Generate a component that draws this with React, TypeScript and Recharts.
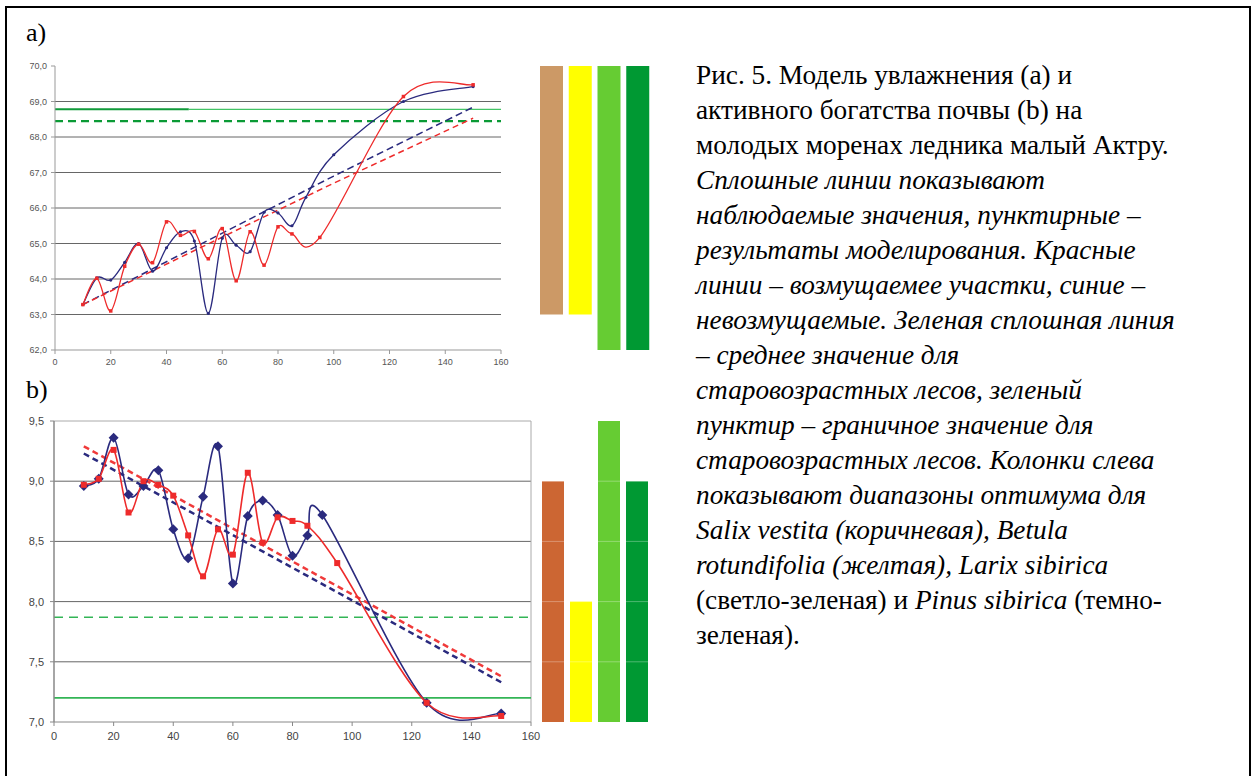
import React from "react";
import {
  Bar,
  BarChart,
  CartesianGrid,
  Cell,
  Line,
  LineChart,
  ReferenceLine,
  XAxis,
  YAxis,
} from "recharts";

// ---------- a) увлажнение ----------
const ageRedA = [10, 15, 20, 25, 30, 35, 40, 45, 50, 55, 60, 65, 70, 75, 80, 85, 95, 125, 150];
const redObsA = [63.28, 64.02, 63.1, 64.36, 64.98, 64.46, 65.61, 65.23, 65.34, 64.57, 65.42, 63.95, 65.33, 64.39, 65.47, 65.27, 65.17, 69.14, 69.47];
const ageBlueA = [10, 15, 20, 25, 30, 35, 40, 45, 50, 55, 60, 65, 70, 75, 80, 85, 90, 100, 125, 150];
const blueObsA = [63.28, 64.03, 63.97, 64.47, 65.0, 64.22, 64.88, 65.33, 65.07, 63.03, 65.15, 64.95, 64.77, 65.88, 65.86, 65.5, 66.3, 67.5, 69.0, 69.42];
const ageModelA = [10, 100, 150];
const blueModelA = [63.28, 66.9, 68.84];
const redModelA = [63.28, 66.7, 68.53];
const meanA = 68.78;
const limitA = 68.45;
const ticksXA = [0, 20, 40, 60, 80, 100, 120, 140, 160];
const ticksYA = [62, 63, 64, 65, 66, 67, 68, 69, 70];
const gridA = [63, 64, 65, 66, 67, 68, 69];

// ---------- b) активное богатство ----------
const ageBlueB = [10, 15, 20, 25, 30, 35, 40, 45, 50, 55, 60, 65, 70, 75, 80, 85, 90, 125, 150];
const blueObsB = [8.96, 9.02, 9.36, 8.89, 8.96, 9.09, 8.6, 8.36, 8.87, 9.29, 8.15, 8.71, 8.84, 8.72, 8.38, 8.55, 8.72, 7.16, 7.07];
const ageRedB = [10, 15, 20, 25, 30, 35, 40, 45, 50, 55, 60, 65, 70, 75, 80, 85, 95, 125, 150];
const redObsB = [8.97, 9.02, 9.26, 8.74, 9.0, 8.97, 8.88, 8.55, 8.21, 8.6, 8.39, 9.07, 8.49, 8.7, 8.67, 8.63, 8.32, 7.16, 7.05];
const ageModelB = [10, 100, 150];
const redModelB = [9.29, 8.06, 7.38];
const blueModelB = [9.23, 8.01, 7.33];
const meanB = 7.2;
const limitB = 7.87;
const ticksXB = [0, 20, 40, 60, 80, 100, 120, 140, 160];
const ticksYB = [7, 7.5, 8, 8.5, 9, 9.5];
const gridB = [7.5, 8, 8.5, 9];

// ---------- колонки оптимума ----------
const species = ["Salix vestita", "Betula rotundifolia", "Larix sibirica", "Pinus sibirica"];
const optLowA = [63, 63, 62, 62];
const optHighA = [70, 70, 70, 70];
const optLowB = [7, 7, 7, 7];
const optHighB = [9, 8, 9.5, 9];
const colorsA = ["#CC9966", "#FFFF00", "#66CC33", "#009933"];
const colorsB = ["#CC6633", "#FFFF00", "#66CC33", "#009933"];

const pts = (xs: number[], ys: number[]) => xs.map((x, i) => ({ x, y: ys[i] }));
const flat = (x0: number, x1: number, y: number) => [{ x: x0, y }, { x: x1, y }];
const comma = (d: number) => (v: number) => v.toFixed(d).replace(".", ",");

// сглаживание как в Excel (Catmull-Rom через кривые Безье)
const excelSmooth = (context: any) => {
  let p: number[][] = [];
  return {
    areaStart() {},
    areaEnd() {},
    lineStart() {
      p = [];
    },
    point(x: number, y: number) {
      p.push([+x, +y]);
    },
    lineEnd() {
      if (!p.length) return;
      context.moveTo(p[0][0], p[0][1]);
      for (let i = 0; i < p.length - 1; i++) {
        const p0 = p[i - 1] || p[i];
        const p1 = p[i];
        const p2 = p[i + 1];
        const p3 = p[i + 2] || p2;
        context.bezierCurveTo(
          p1[0] + (p2[0] - p0[0]) / 6,
          p1[1] + (p2[1] - p0[1]) / 6,
          p2[0] - (p3[0] - p1[0]) / 6,
          p2[1] - (p3[1] - p1[1]) / 6,
          p2[0],
          p2[1]
        );
      }
    },
  };
};

const square = (s: number, color: string) => (p: any) => (
  <rect key={`sq-${p.index}`} x={p.cx - s / 2} y={p.cy - s / 2} width={s} height={s} fill={color} />
);
const circle = (r: number, color: string) => (p: any) => (
  <circle key={`c-${p.index}`} cx={p.cx} cy={p.cy} r={r} fill={color} />
);
const diamond = (r: number, color: string) => (p: any) => (
  <path
    key={`d-${p.index}`}
    d={`M${p.cx},${p.cy - r}L${p.cx + r},${p.cy}L${p.cx},${p.cy + r}L${p.cx - r},${p.cy}Z`}
    fill={color}
  />
);

const RED = "#EE2B2B";
const NAVY = "#2A2A7E";
const sans = "Liberation Sans, Arial, sans-serif";
const serif = "Liberation Serif, Times New Roman, serif";

function ChartA() {
  return (
    <LineChart width={520} height={330} margin={{ top: 16, right: 19, bottom: 10, left: 0 }}>
      <CartesianGrid vertical={false} horizontalValues={gridA} stroke="#666" />
      <XAxis
        type="number"
        dataKey="x"
        domain={[0, 160]}
        ticks={ticksXA}
        height={20}
        tickSize={4}
        tickMargin={5}
        axisLine={{ stroke: "#999" }}
        tickLine={{ stroke: "#999" }}
        tick={{ fill: "#555", fontSize: 9, fontFamily: sans }}
      />
      <YAxis
        type="number"
        domain={[62, 70]}
        ticks={ticksYA}
        width={55}
        tickSize={4}
        tickMargin={4}
        tickFormatter={comma(1)}
        axisLine={{ stroke: "#999" }}
        tickLine={{ stroke: "#999" }}
        tick={{ fill: "#555", fontSize: 9, fontFamily: sans }}
      />
      <Line data={flat(0, 48, meanA)} dataKey="y" stroke="#119a3a" strokeWidth={2} dot={false} isAnimationActive={false} />
      <Line data={flat(48, 160, meanA)} dataKey="y" stroke="#44c466" strokeWidth={1.2} dot={false} isAnimationActive={false} />
      <Line data={flat(0, 160, limitA)} dataKey="y" stroke="#0a9a35" strokeWidth={2.2} strokeDasharray="8 5" dot={false} isAnimationActive={false} />
      <Line data={pts(ageModelA, blueModelA)} dataKey="y" type="linear" stroke={NAVY} strokeWidth={1.5} strokeDasharray="7 4" dot={false} isAnimationActive={false} />
      <Line data={pts(ageModelA, redModelA)} dataKey="y" type="linear" stroke={RED} strokeWidth={1.5} strokeDasharray="6 4" dot={false} isAnimationActive={false} />
      <Line data={pts(ageBlueA, blueObsA)} dataKey="y" type={excelSmooth as any} stroke={NAVY} strokeWidth={1.3} dot={circle(1.6, NAVY)} isAnimationActive={false} />
      <Line data={pts(ageRedA, redObsA)} dataKey="y" type={excelSmooth as any} stroke={RED} strokeWidth={1.3} dot={square(3.5, RED)} isAnimationActive={false} />
    </LineChart>
  );
}

function ChartB() {
  return (
    <LineChart width={550} height={345} margin={{ top: 16, right: 19, bottom: 8, left: 0 }}>
      <CartesianGrid vertical={false} horizontalValues={gridB} stroke="#666" />
      <ReferenceLine y={9.5} stroke="#aaa" />
      <ReferenceLine x={160} stroke="#aaa" />
      <XAxis
        type="number"
        dataKey="x"
        domain={[0, 160]}
        ticks={ticksXB}
        height={20}
        tickSize={4}
        tickMargin={6}
        axisLine={{ stroke: "#888" }}
        tickLine={{ stroke: "#888" }}
        tick={{ fill: "#444", fontSize: 11, fontFamily: sans }}
      />
      <YAxis
        type="number"
        domain={[7, 9.5]}
        ticks={ticksYB}
        width={54}
        tickSize={4}
        tickMargin={6}
        tickFormatter={comma(1)}
        axisLine={{ stroke: "#888", strokeWidth: 1.5 }}
        tickLine={{ stroke: "#888" }}
        tick={{ fill: "#444", fontSize: 11, fontFamily: sans }}
      />
      <Line data={flat(0, 160, meanB)} dataKey="y" stroke="#33b556" strokeWidth={1.6} dot={false} isAnimationActive={false} />
      <Line data={flat(0, 160, limitB)} dataKey="y" stroke="#33b556" strokeWidth={1.4} strokeDasharray="9 6" dot={false} isAnimationActive={false} />
      <Line data={pts(ageModelB, redModelB)} dataKey="y" type="linear" stroke="#F03A3A" strokeWidth={2.5} strokeDasharray="6 4" dot={false} isAnimationActive={false} />
      <Line data={pts(ageModelB, blueModelB)} dataKey="y" type="linear" stroke={NAVY} strokeWidth={2.5} strokeDasharray="6 4" dot={false} isAnimationActive={false} />
      <Line data={pts(ageBlueB, blueObsB)} dataKey="y" type={excelSmooth as any} stroke={NAVY} strokeWidth={1.6} dot={diamond(5, NAVY)} isAnimationActive={false} />
      <Line data={pts(ageRedB, redObsB)} dataKey="y" type={excelSmooth as any} stroke={RED} strokeWidth={1.6} dot={square(6, RED)} isAnimationActive={false} />
    </LineChart>
  );
}

function OptBars({
  low,
  high,
  colors,
  domain,
  width,
  height,
  barSize,
  lines,
}: {
  low: number[];
  high: number[];
  colors: string[];
  domain: [number, number];
  width: number;
  height: number;
  barSize: number;
  lines?: number[];
}) {
  const data = species.map((name, i) => ({ name, range: [low[i], high[i]] }));
  return (
    <BarChart width={width} height={height} data={data} margin={{ top: 0, right: 0, bottom: 0, left: 0 }}>
      <XAxis dataKey="name" hide />
      <YAxis type="number" domain={domain} hide allowDataOverflow />
      <Bar dataKey="range" barSize={barSize} isAnimationActive={false}>
        {data.map((d, i) => (
          <Cell key={d.name} fill={colors[i]} />
        ))}
      </Bar>
      {(lines || []).map((v) => (
        <ReferenceLine key={v} y={v} stroke="rgba(255,255,255,0.3)" />
      ))}
    </BarChart>
  );
}

const capLine: React.CSSProperties = { whiteSpace: "nowrap", height: 35 };

export default function App() {
  return (
    <div style={{ position: "absolute", left: 0, top: 0, width: 1252, height: 776, overflow: "hidden", background: "#fff" }}>
      <div style={{ position: "absolute", left: 5, top: 6, width: 1246, height: 820, border: "2px solid #000", boxSizing: "border-box" }} />
      <div style={{ position: "absolute", left: 26, top: 18, fontFamily: serif, fontSize: 26, lineHeight: "30px" }}>a)</div>
      <div style={{ position: "absolute", left: 26, top: 375, fontFamily: serif, fontSize: 26, lineHeight: "30px" }}>b)</div>
      <div style={{ position: "absolute", left: 0, top: 50 }}>
        <ChartA />
      </div>
      <div style={{ position: "absolute", left: 0, top: 405 }}>
        <ChartB />
      </div>
      <div style={{ position: "absolute", left: 537, top: 66 }}>
        <OptBars low={optLowA} high={optHighA} colors={colorsA} domain={[62, 70]} width={115} height={284} barSize={23} />
      </div>
      <div style={{ position: "absolute", left: 539, top: 421 }}>
        <OptBars low={optLowB} high={optHighB} colors={colorsB} domain={[7, 9.5]} width={112} height={301} barSize={22} lines={gridB} />
      </div>
      <div style={{ position: "absolute", left: 696, top: 58, fontFamily: serif, fontSize: 27.3, lineHeight: "35px", color: "#000" }}>
        <div style={capLine}>Рис. 5. Модель увлажнения (а) и</div>
        <div style={capLine}>активного богатства почвы (b) на</div>
        <div style={capLine}>молодых моренах ледника малый Актру.</div>
        <div style={{ ...capLine, fontStyle: "italic" }}>Сплошные линии показывают</div>
        <div style={{ ...capLine, fontStyle: "italic" }}>наблюдаемые значения, пунктирные –</div>
        <div style={{ ...capLine, fontStyle: "italic" }}>результаты моделирования. Красные</div>
        <div style={{ ...capLine, fontStyle: "italic" }}>линии – возмущаемее участки, синие –</div>
        <div style={{ ...capLine, fontStyle: "italic" }}>невозмущаемые. Зеленая сплошная линия</div>
        <div style={{ ...capLine, fontStyle: "italic" }}>– среднее значение для</div>
        <div style={{ ...capLine, fontStyle: "italic" }}>старовозрастных лесов, зеленый</div>
        <div style={{ ...capLine, fontStyle: "italic" }}>пунктир – граничное значение для</div>
        <div style={{ ...capLine, fontStyle: "italic" }}>старовозрастных лесов. Колонки слева</div>
        <div style={{ ...capLine, fontStyle: "italic" }}>показывают диапазоны оптимума для</div>
        <div style={{ ...capLine, fontStyle: "italic" }}>Salix vestita (коричневая), Betula</div>
        <div style={{ ...capLine, fontStyle: "italic" }}>rotundifolia (желтая), Larix sibirica</div>
        <div style={capLine}>
          (светло-зеленая) и <i>Pinus sibirica</i> (темно-
        </div>
        <div style={capLine}>зеленая).</div>
      </div>
    </div>
  );
}
